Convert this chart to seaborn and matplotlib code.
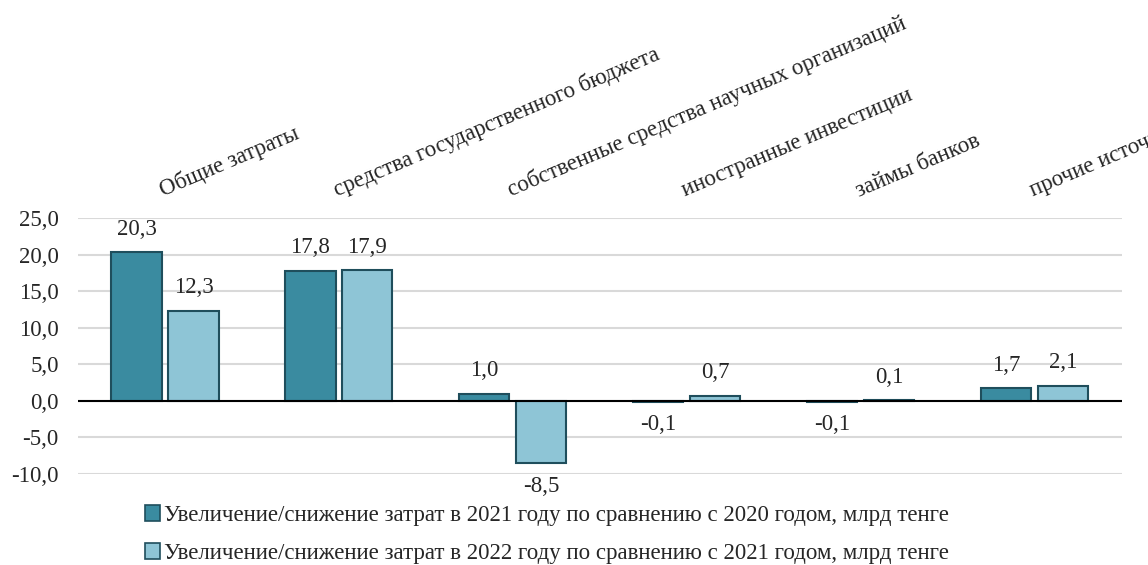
import pandas as pd
import matplotlib.pyplot as plt
import seaborn as sns

# Data
categories = ['Общие затраты', 'средства государственного бюджета',
              'собственные средства научных организаций', 'иностранные инвестиции',
              'займы банков', 'прочие источники']
series_names = ['Увеличение/снижение затрат в 2021 году по сравнению с 2020 годом, млрд тенге',
                'Увеличение/снижение затрат в 2022 году по сравнению с 2021 годом, млрд тенге']
values_2021 = [20.3, 17.8, 1.0, -0.1, -0.1, 1.7]
values_2022 = [12.3, 17.9, -8.5, 0.7, 0.1, 2.1]
y_ticks = [-10, -5, 0, 5, 10, 15, 20, 25]

df = pd.DataFrame({
    'category': categories * 2,
    'series': [series_names[0]] * len(categories) + [series_names[1]] * len(categories),
    'value': values_2021 + values_2022,
})

sns.set_style('white')
plt.rcParams['font.family'] = ['Liberation Serif', 'DejaVu Serif']

colors = ['#3A8BA0', '#8EC5D6']

fig = plt.figure(figsize=(11.48, 5.65), dpi=100)
ax = fig.add_axes([0.068, 0.161, 0.909, 0.453])

sns.barplot(data=df, x='category', y='value', hue='series', order=categories,
            hue_order=series_names, palette=colors, saturation=1, width=0.655, gap=0.12,
            edgecolor='#1f4e5c', linewidth=1.5, legend=False, ax=ax)

# value labels with comma decimal separator
for container in ax.containers:
    ax.bar_label(container, labels=[f'{v:.1f}'.replace('.', ',') for v in container.datavalues],
                 padding=9, fontsize=16.5)

ax.set_ylim(-10, 25)
ax.set_xlim(-0.5, len(categories) - 0.5)
ax.set_yticks(y_ticks)
ax.set_yticklabels([f'{t:.1f}'.replace('.', ',') for t in y_ticks], fontsize=16.5)
ax.yaxis.grid(True, color='#D9D9D9', linewidth=1.5)
ax.set_axisbelow(True)
ax.axhline(0, color='black', linewidth=1.5, zorder=3)
for s in ax.spines.values():
    s.set_visible(False)

# category names on top, slanted
ax.xaxis.tick_top()
ax.set_xticks(range(len(categories)))
ax.set_xticklabels(categories, rotation=23, ha='left', va='bottom',
                   rotation_mode='anchor', fontsize=16.5)
ax.tick_params(axis='both', length=0)
ax.tick_params(axis='x', pad=12)
ax.tick_params(axis='y', pad=14)
ax.set_xlabel('')
ax.set_ylabel('')

handles = [plt.Rectangle((0, 0), 1, 1, facecolor=c, edgecolor='#1f4e5c', linewidth=1.2)
           for c in colors]
fig.legend(handles, series_names, loc='lower left', bbox_to_anchor=(0.108, -0.035),
           frameon=False, fontsize=16.5, handlelength=0.65, handleheight=0.65,
           handletextpad=0.2, labelspacing=0.75)

fig.savefig('out.png', dpi=100)
